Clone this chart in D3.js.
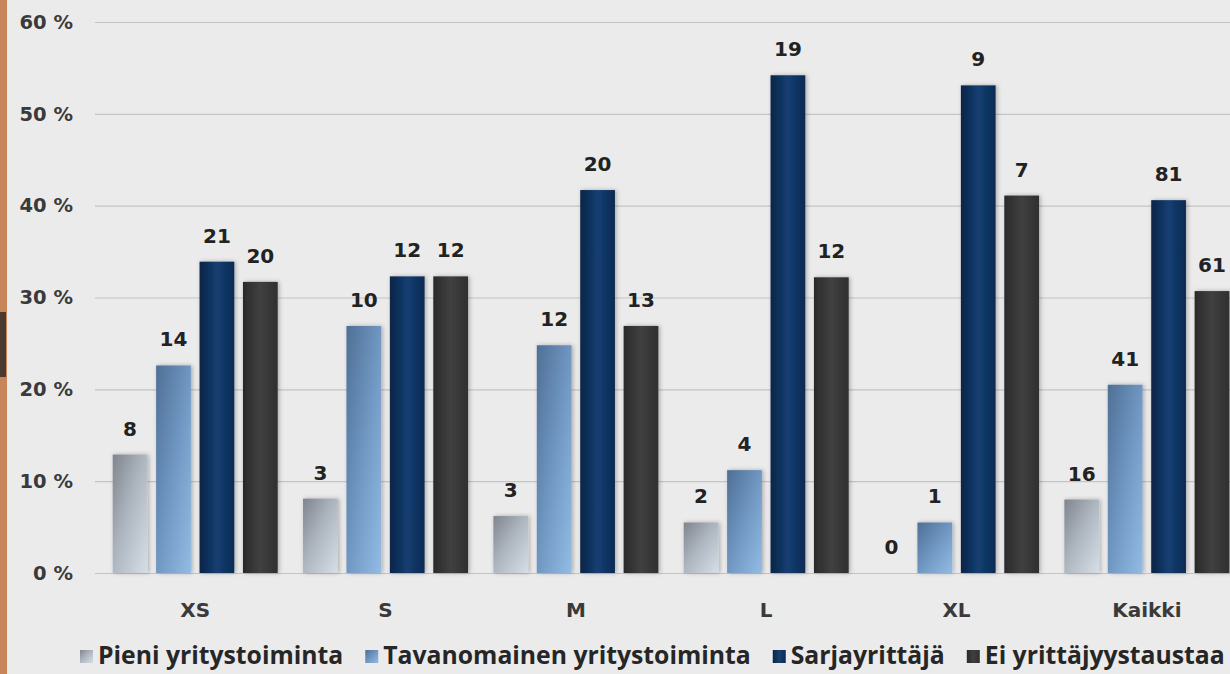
<!DOCTYPE html>
<html>
<head>
<meta charset="utf-8">
<script src="https://cdn.jsdelivr.net/npm/d3@7"></script>
<style>
  html, body { margin: 0; padding: 0; background: #ebebeb; overflow: hidden; }
  svg { display: block; font-family: "DejaVu Sans", sans-serif; }
</style>
</head>
<body>
<script>
var Width = 1230;
var Height = 674;
var FONT = "'DejaVu Sans', sans-serif";
var LEGEND_FONT = "'Open Sans', sans-serif";

// categories and series
var categories = ["XS", "S", "M", "L", "XL", "Kaikki"];
var seriesNames = ["Pieni yritystoiminta", "Tavanomainen yritystoiminta", "Sarjayrittäjä", "Ei yrittäjyystaustaa"];

// share of respondents, %
var pieni = [12.9, 8.1, 6.2, 5.5, 0, 8.0];
var tavanomainen = [22.6, 26.9, 24.8, 11.2, 5.5, 20.5];
var sarja = [33.9, 32.3, 41.7, 54.2, 53.1, 40.6];
var eiTausta = [31.7, 32.3, 26.9, 32.2, 41.1, 30.7];

// counts shown above the bars
var pieniN = [8, 3, 3, 2, 0, 16];
var tavanomainenN = [14, 10, 12, 4, 1, 41];
var sarjaN = [21, 12, 20, 19, 9, 81];
var eiTaustaN = [20, 12, 13, 12, 7, 61];

var yTicks = [0, 10, 20, 30, 40, 50, 60];

var values = [pieni, tavanomainen, sarja, eiTausta];
var counts = [pieniN, tavanomainenN, sarjaN, eiTaustaN];

var svg = d3.select("body").append("svg")
	.attr("width", Width)
	.attr("height", Height);

var defs = svg.append("defs");

// gradients for the four series
var grads = [
	{ id: "g0", x2: "100%", y2: "100%", stops: [["0%", "#80858d"], ["45%", "#acb4be"], ["100%", "#d6dee6"]] },
	{ id: "g1", x2: "100%", y2: "100%", stops: [["0%", "#4f6f95"], ["50%", "#6f97c2"], ["100%", "#93bce4"]] },
	{ id: "g2", x2: "100%", y2: "0%", stops: [["0%", "#0a2446"], ["50%", "#143f72"], ["100%", "#0b2a52"]] },
	{ id: "g3", x2: "100%", y2: "0%", stops: [["0%", "#2a2a2a"], ["50%", "#404040"], ["100%", "#2f2f2f"]] }
];
grads.forEach(function (g) {
	var lg = defs.append("linearGradient").attr("id", g.id)
		.attr("x1", "0%").attr("y1", "0%").attr("x2", g.x2).attr("y2", g.y2);
	g.stops.forEach(function (s) {
		lg.append("stop").attr("offset", s[0]).attr("stop-color", s[1]);
	});
});

var shadow = defs.append("filter").attr("id", "shadow")
	.attr("x", "-30%").attr("y", "-10%").attr("width", "160%").attr("height", "120%");
shadow.append("feDropShadow").attr("dx", 1.5).attr("dy", 0).attr("stdDeviation", 2)
	.attr("flood-color", "#000").attr("flood-opacity", 0.28);

// orange strip at the left edge
svg.append("rect").attr("x", 0).attr("y", 0).attr("width", 7).attr("height", Height).attr("fill", "#c7865a");
svg.append("rect").attr("x", 0).attr("y", 312).attr("width", 6).attr("height", 65).attr("fill", "#4b3a2f");

var x0 = d3.scaleBand()
	.domain(categories)
	.range([100, 1242]);

var x1 = d3.scaleBand()
	.domain(d3.range(seriesNames.length))
	.range([12.7, 177.7])
	.paddingInner(0.2);

var y = d3.scaleLinear()
	.domain([0, 60])
	.range([573, 22]);

// gridlines
svg.append("g")
	.attr("class", "grid")
	.attr("transform", "translate(95,0)")
	.call(d3.axisLeft(y).tickValues(yTicks).tickSize(-(Width - 95)).tickFormat(""))
	.call(function (g) { g.select(".domain").remove(); })
	.selectAll("line")
	.attr("stroke", "#c4c4c4")
	.attr("stroke-width", 1.2);

// y axis labels
svg.append("g")
	.attr("transform", "translate(95,0)")
	.call(d3.axisLeft(y).tickValues(yTicks).tickSize(0).tickPadding(22).tickFormat(function (d) { return d + " %"; }))
	.call(function (g) { g.select(".domain").remove(); })
	.selectAll("text")
	.attr("font-family", FONT)
	.attr("font-size", 19.5)
	.attr("font-weight", 700)
	.attr("fill", "#3a3a3a");

// x axis labels
svg.append("g")
	.attr("transform", "translate(0,573)")
	.call(d3.axisBottom(x0).tickSize(0).tickPadding(30))
	.call(function (g) { g.select(".domain").remove(); })
	.selectAll("text")
	.attr("font-family", FONT)
	.attr("font-size", 20)
	.attr("font-weight", 700)
	.attr("fill", "#3a3a3a");

// bars
var groups = svg.append("g").selectAll("g")
	.data(categories)
	.enter()
	.append("g")
	.attr("transform", function (d) { return "translate(" + x0(d) + ",0)"; });

function cells(d, ci) {
	return values.map(function (v, si) { return { s: si, v: v[ci], n: counts[si][ci] }; });
}

groups.selectAll("rect")
	.data(cells)
	.enter()
	.append("rect")
	.attr("x", function (d) { return x1(d.s); })
	.attr("y", function (d) { return y(d.v); })
	.attr("width", x1.bandwidth())
	.attr("height", function (d) { return y(0) - y(d.v); })
	.attr("fill", function (d) { return "url(#g" + d.s + ")"; })
	.attr("filter", function (d) { return d.v > 0 ? "url(#shadow)" : null; });

groups.selectAll("text")
	.data(cells)
	.enter()
	.append("text")
	.attr("x", function (d) { return x1(d.s) + x1.bandwidth() / 2; })
	.attr("y", function (d) { return y(d.v) - 19; })
	.attr("text-anchor", "middle")
	.attr("font-size", 20)
	.attr("font-weight", 700)
	.attr("fill", "#222")
	.text(function (d) { return d.n; });

// legend
var legend = svg.append("g").attr("transform", "translate(0,664)");
var items = legend.selectAll("g")
	.data(seriesNames)
	.enter()
	.append("g");

items.append("rect")
	.attr("y", -14)
	.attr("width", 13)
	.attr("height", 13)
	.attr("fill", function (d, i) { return "url(#g" + i + ")"; });

var labels = items.append("text")
	.attr("x", 18)
	.attr("font-family", LEGEND_FONT)
	.attr("font-size", 20)
	.attr("font-weight", 700)
	.attr("fill", "#262626")
	.text(function (d) { return d; });

// fit the legend between the measured left and right ends
var textW = 0;
labels.each(function () { textW += this.getComputedTextLength(); });
var fixedW = seriesNames.length * 18 + (seriesNames.length - 1) * 22;
var fs = 20 * (1145 - fixedW) / textW;
labels.attr("font-size", fs);

var cx = 80;
items.each(function () {
	var g = d3.select(this);
	g.attr("transform", "translate(" + cx + ",0)");
	cx += 18 + g.select("text").node().getComputedTextLength() + 22;
});
</script>
</body>
</html>
